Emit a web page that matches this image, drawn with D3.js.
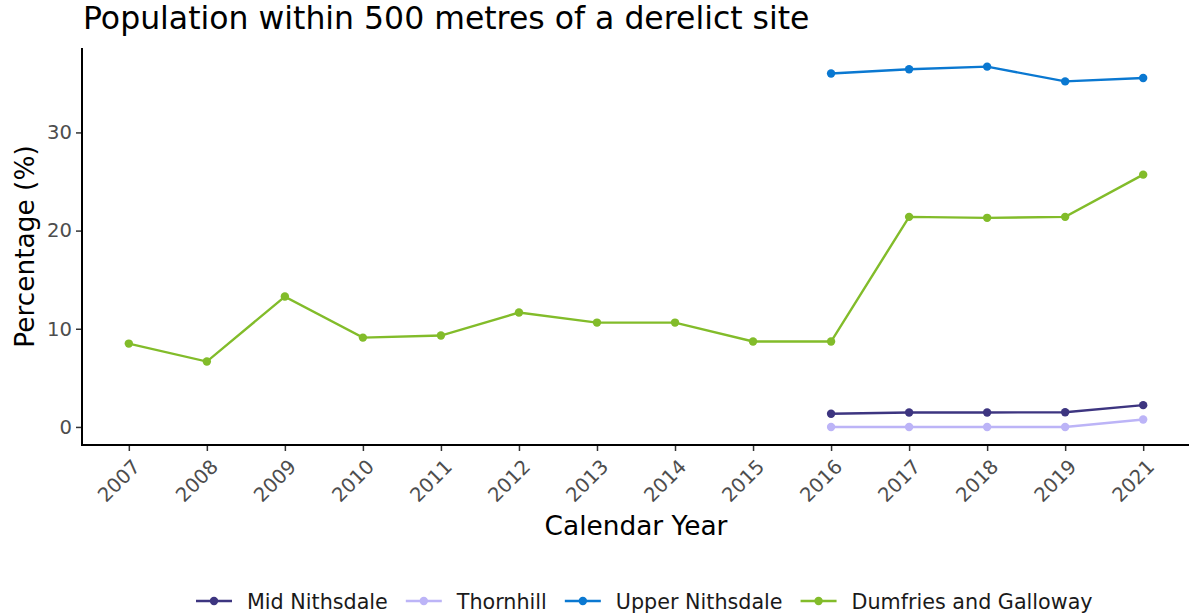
<!DOCTYPE html>
<html><head><meta charset="utf-8">
<script src="https://cdn.jsdelivr.net/npm/d3@7"></script>
<style>body{margin:0;background:#fff;}svg{display:block;font-family:"DejaVu Sans",sans-serif;}</style>
</head><body><svg id="c" width="1189" height="615"></svg>
<script>
const years = ["2007","2008","2009","2010","2011","2012","2013","2014","2015","2016","2017","2018","2019","2021"];
const seriesNames = ["Mid Nithsdale","Thornhill","Upper Nithsdale","Dumfries and Galloway"];
const midNithsdale = [null,null,null,null,null,null,null,null,null,1.34,1.47,1.47,1.5,2.22];
const thornhill = [null,null,null,null,null,null,null,null,null,0,0,0,0,0.76];
const upperNithsdale = [null,null,null,null,null,null,null,null,null,36.0,36.44,36.7,35.2,35.55];
const dumfriesGalloway = [8.49,6.66,13.28,9.1,9.31,11.65,10.63,10.63,8.7,8.7,21.4,21.3,21.4,25.7];
const yTicks = [0,10,20,30];
const colors = ["#3d3580","#bcb4f7","#0a78d1","#82bc2a"];
const allSeries = [midNithsdale,thornhill,upperNithsdale,dumfriesGalloway];

const svg = d3.select("#c");
const L = 82, R = 1190, T = 48, B = 445;
const x = d3.scalePoint().domain(years).range([L,R]).padding(0.6);
const ymin = -1.84, ymax = 38.6;
const y = d3.scaleLinear().domain([ymin,ymax]).range([B,T]);

// title
svg.append("text").attr("x",83).attr("y",29).attr("font-size",31.5).attr("fill","#000").text("Population within 500 metres of a derelict site");

// series
allSeries.forEach((s,i)=>{
  const pts = years.map((yr,j)=>({yr,v:s[j]})).filter(d=>d.v!==null);
  const line = d3.line().x(d=>x(d.yr)).y(d=>y(d.v));
  svg.append("path").datum(pts).attr("d",line).attr("fill","none").attr("stroke",colors[i]).attr("stroke-width",2.4);
  svg.selectAll(null).data(pts).enter().append("circle").attr("cx",d=>x(d.yr)).attr("cy",d=>y(d.v)).attr("r",4.2).attr("fill",colors[i]);
});

// y axis
const ya = svg.append("g").attr("transform",`translate(${L},0)`).call(d3.axisLeft(y).tickValues(yTicks).tickSize(6).tickPadding(4));
ya.select(".domain").remove();
ya.selectAll(".tick line").attr("stroke","#333").attr("stroke-width",1.5);
ya.selectAll(".tick text").attr("font-size",19.6).attr("fill","#4d4d4d").attr("font-family","DejaVu Sans");
svg.append("line").attr("x1",L).attr("x2",L).attr("y1",T).attr("y2",B+1).attr("stroke","#000").attr("stroke-width",2);

// x axis
const xa = svg.append("g").attr("transform",`translate(0,${B})`).call(d3.axisBottom(x).tickSize(6).tickSizeOuter(0));
xa.select(".domain").remove();
xa.selectAll(".tick line").attr("stroke","#333").attr("stroke-width",1.5);
xa.selectAll(".tick text").attr("font-size",19.6).attr("fill","#4d4d4d").attr("font-family","DejaVu Sans")
  .attr("text-anchor","end").attr("dy",null).attr("y",0).attr("transform","translate(12,23) rotate(-45)");
svg.append("line").attr("x1",L-1).attr("x2",R).attr("y1",B).attr("y2",B).attr("stroke","#000").attr("stroke-width",2);

// axis titles
svg.append("text").attr("x",(L+R)/2).attr("y",535).attr("text-anchor","middle").attr("font-size",26.4).attr("fill","#000").text("Calendar Year");
svg.append("text").attr("transform",`translate(34,${(T+B)/2}) rotate(-90)`).attr("text-anchor","middle").attr("font-size",26.4).attr("fill","#000").text("Percentage (%)");

// legend
const lg = svg.append("g");
let lx = 196;
seriesNames.forEach((n,i)=>{
  const g = lg.append("g").attr("transform",`translate(${lx},601)`);
  g.append("line").attr("x1",0).attr("x2",36).attr("y1",0).attr("y2",0).attr("stroke",colors[i]).attr("stroke-width",2.4);
  g.append("circle").attr("cx",18).attr("cy",0).attr("r",4.2).attr("fill",colors[i]);
  const t = g.append("text").attr("x",51).attr("y",7.5).attr("font-size",20.7).attr("fill","#1a1a1a").text(n);
  lx += 51 + t.node().getComputedTextLength() + 18;
});
</script></body></html>
